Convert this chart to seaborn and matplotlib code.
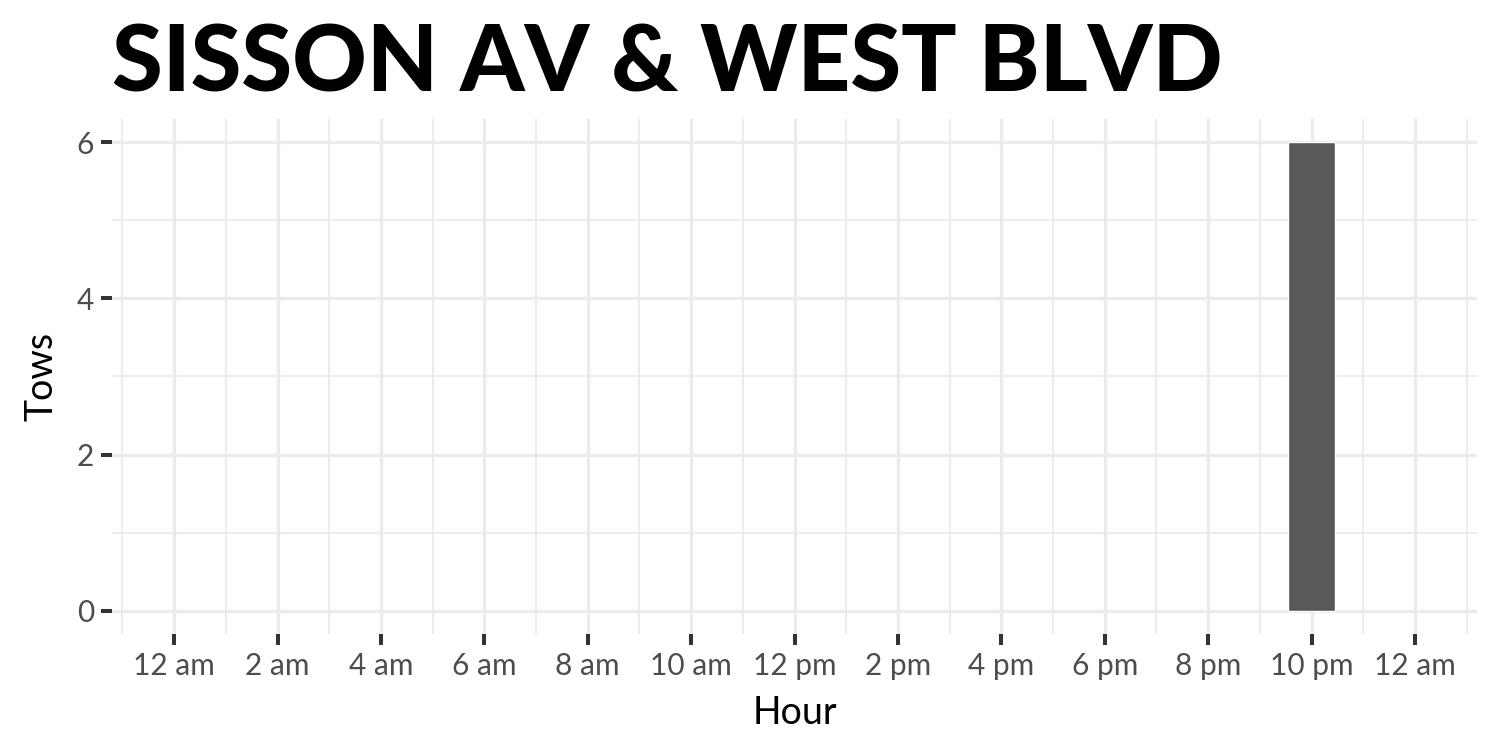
import matplotlib
matplotlib.use("Agg")
import matplotlib.pyplot as plt
import seaborn as sns
import pandas as pd
import numpy as np

# tows per hour at this intersection
hours = [22]
tows = [6]
hour_ticks = [0, 2, 4, 6, 8, 10, 12, 14, 16, 18, 20, 22, 24]
hour_labels = ["12 am", "2 am", "4 am", "6 am", "8 am", "10 am", "12 pm",
               "2 pm", "4 pm", "6 pm", "8 pm", "10 pm", "12 am"]
tow_ticks = [0, 2, 4, 6]
title = "SISSON AV & WEST BLVD"

df = pd.DataFrame({"Hour": hours, "Tows": tows})

sns.set_theme(style="white")
plt.rcParams["font.family"] = ["Lato", "DejaVu Sans"]

fig = plt.figure(figsize=(15, 7.5), dpi=100)
ax = fig.add_axes([0.0747, 0.1547, 0.91, 0.6866])

sns.barplot(data=df, x="Hour", y="Tows", native_scale=True, width=0.9,
            color="#595959", saturation=1, ax=ax, zorder=3)

ax.set_xlim(-1.2, 25.2)
ax.set_ylim(-0.3, 6.3)
ax.set_xticks(hour_ticks)
ax.set_xticklabels(hour_labels)
ax.set_yticks(tow_ticks)
ax.set_xticks(np.arange(-1, 26, 2), minor=True)
ax.set_yticks([1, 3, 5], minor=True)

ax.grid(which="major", color="#ebebeb", linewidth=2.4, zorder=0)
ax.grid(which="minor", color="#ebebeb", linewidth=1.3, zorder=0)
ax.set_axisbelow(True)
for s in ax.spines.values():
    s.set_visible(False)

ax.tick_params(which="major", bottom=True, left=True, length=8, width=2.9,
               color="#333333", labelsize=21.5, labelcolor="#4d4d4d", pad=5)
ax.tick_params(which="minor", bottom=False, left=False, length=0)

ax.set_xlabel("Hour", fontsize=27, color="black", labelpad=11)
ax.set_ylabel("Tows", fontsize=27, color="black", labelpad=12)

fig.text(0.0747, 1 - 91 / 750, title, fontsize=66.3, fontweight=900,
         color="black", ha="left", va="baseline")

fig.savefig("out.png", dpi=100)
